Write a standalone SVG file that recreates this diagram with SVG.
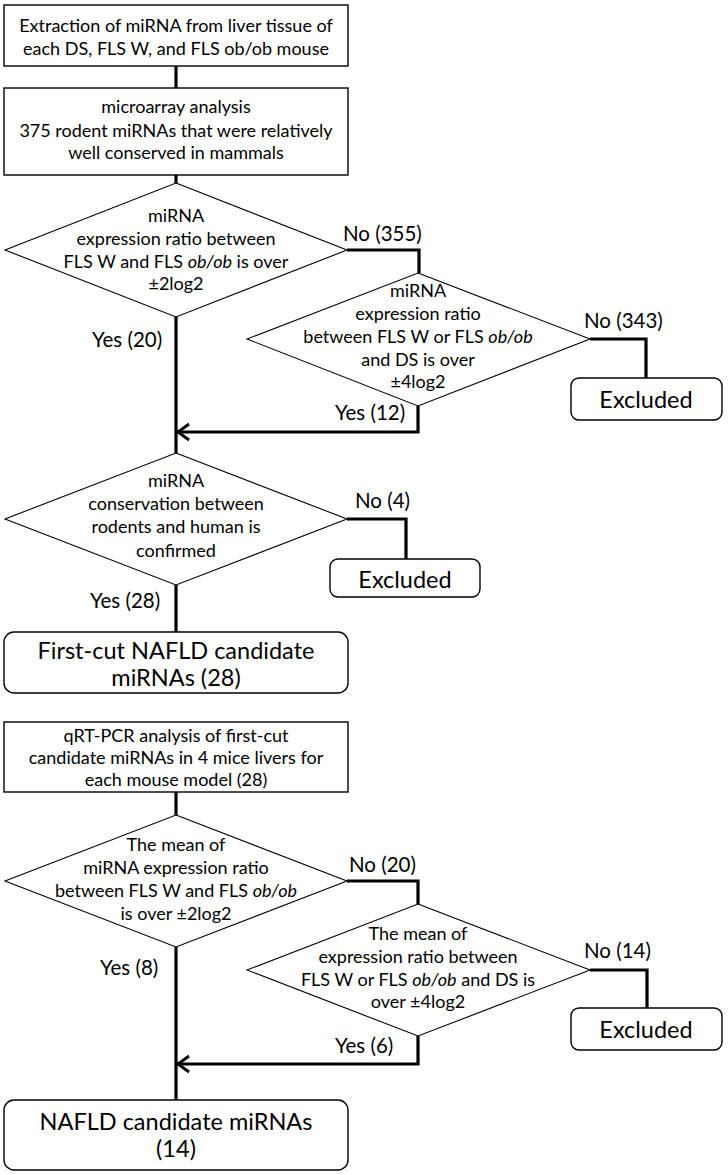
<svg xmlns="http://www.w3.org/2000/svg" width="728" height="1175" viewBox="0 0 728 1175">
<style>
text{font-family:Lato,"Liberation Sans",sans-serif;fill:#000;text-anchor:middle}
.t{font-size:18px}
.b{font-size:23.5px}
.lab{font-size:20.5px;text-anchor:start}
.box{fill:#fff;stroke:#000;stroke-width:1.4}
.dia{fill:#fff;stroke:#000;stroke-width:1.1}
.c{fill:none;stroke:#000;stroke-width:3.2}
</style>
<defs>
<marker id="arr" markerWidth="16" markerHeight="20" refX="13" refY="10" orient="auto" markerUnits="userSpaceOnUse">
<path d="M2,2 L13,10 L2,18" fill="none" stroke="#000" stroke-width="3"/>
</marker>
</defs>
<rect width="728" height="1175" fill="#fff"/>
<g id="connectors">
<path class="c" d="M176,66 V88"/>
<path class="c" d="M176,175 V183"/>
<path class="c" d="M347,250 H419 V273"/>
<path class="c" d="M176,317 V453"/>
<path class="c" d="M590,339 H646 V378"/>
<path class="c" d="M418,406 V432 H178" marker-end="url(#arr)"/>
<path class="c" d="M347,519 H406 V559"/>
<path class="c" d="M176,585 V632"/>
<path class="c" d="M176,792 V815"/>
<path class="c" d="M347,881 H418 V904"/>
<path class="c" d="M176,947 V1100"/>
<path class="c" d="M590,970 H647 V1008"/>
<path class="c" d="M418,1036 V1064 H178" marker-end="url(#arr)"/>
</g>
<g id="n1">
<rect class="box" x="4" y="5" width="344" height="61"/>
<text class="t" x="176" y="32">Extraction of miRNA from liver tissue of</text>
<text class="t" x="176" y="55">each DS, FLS W, and FLS ob/ob mouse</text>
</g>
<g id="n2">
<rect class="box" x="4" y="88" width="344" height="87"/>
<text class="t" x="176" y="113">microarray analysis</text>
<text class="t" x="176" y="137">375 rodent miRNAs that were relatively</text>
<text class="t" x="176" y="159">well conserved in mammals</text>
</g>
<g id="d1">
<polygon class="dia" points="176,183 347,250 176,317 5,250"/>
<text class="t" x="176" y="222">miRNA</text>
<text class="t" x="176" y="245">expression ratio between</text>
<text class="t" x="176" y="268">FLS W and FLS <tspan font-style="italic">ob/ob</tspan> is over</text>
<text class="t" x="176" y="290">±2log2</text>
</g>
<text class="lab" x="343" y="241">No (355)</text>
<text class="lab" x="92" y="347">Yes (20)</text>
<g id="d2">
<polygon class="dia" points="418,273 590,339 418,406 247,339"/>
<text class="t" x="418" y="297">miRNA</text>
<text class="t" x="418" y="320">expression ratio</text>
<text class="t" x="418" y="343">between FLS W or FLS <tspan font-style="italic">ob/ob</tspan></text>
<text class="t" x="418" y="366">and DS is over</text>
<text class="t" x="418" y="388">±4log2</text>
</g>
<text class="lab" x="584" y="328">No (343)</text>
<text class="lab" x="335" y="420">Yes (12)</text>
<g id="e1">
<rect class="box" x="571" y="378" width="151" height="42" rx="8"/>
<text class="b" x="646" y="408">Excluded</text>
</g>
<g id="d3">
<polygon class="dia" points="176,453 347,519 176,585 5,519"/>
<text class="t" x="176" y="487">miRNA</text>
<text class="t" x="176" y="510">conservation between</text>
<text class="t" x="176" y="533">rodents and human is</text>
<text class="t" x="176" y="557">confirmed</text>
</g>
<text class="lab" x="355" y="508">No (4)</text>
<text class="lab" x="90" y="608">Yes (28)</text>
<g id="e2">
<rect class="box" x="330" y="559" width="150" height="38" rx="8"/>
<text class="b" x="405" y="588">Excluded</text>
</g>
<g id="n3">
<rect class="box" x="4" y="632" width="344" height="61" rx="10"/>
<text class="b" x="176" y="659">First-cut NAFLD candidate</text>
<text class="b" x="176" y="686">miRNAs (28)</text>
</g>
<g id="n4">
<rect class="box" x="4" y="722" width="344" height="70"/>
<text class="t" x="176" y="742">qRT-PCR analysis of first-cut</text>
<text class="t" x="176" y="764">candidate miRNAs in 4 mice livers for</text>
<text class="t" x="176" y="786">each mouse model (28)</text>
</g>
<g id="d4">
<polygon class="dia" points="176,815 347,881 176,947 5,881"/>
<text class="t" x="176" y="851">The mean of</text>
<text class="t" x="176" y="874">miRNA expression ratio</text>
<text class="t" x="176" y="897">between FLS W and FLS <tspan font-style="italic">ob/ob</tspan></text>
<text class="t" x="176" y="920">is over ±2log2</text>
</g>
<text class="lab" x="349" y="872">No (20)</text>
<text class="lab" x="100" y="975">Yes (8)</text>
<g id="d5">
<polygon class="dia" points="418,904 590,970 418,1036 247,970"/>
<text class="t" x="418" y="940">The mean of</text>
<text class="t" x="418" y="963">expression ratio between</text>
<text class="t" x="418" y="986">FLS W or FLS <tspan font-style="italic">ob/ob</tspan> and DS is</text>
<text class="t" x="418" y="1008">over ±4log2</text>
</g>
<text class="lab" x="584" y="958">No (14)</text>
<text class="lab" x="335" y="1053">Yes (6)</text>
<g id="e3">
<rect class="box" x="571" y="1008" width="151" height="42" rx="8"/>
<text class="b" x="646" y="1038">Excluded</text>
</g>
<g id="n5">
<rect class="box" x="4" y="1100" width="344" height="70" rx="10"/>
<text class="b" x="176" y="1130">NAFLD candidate miRNAs</text>
<text class="b" x="176" y="1157">(14)</text>
</g>
</svg>
